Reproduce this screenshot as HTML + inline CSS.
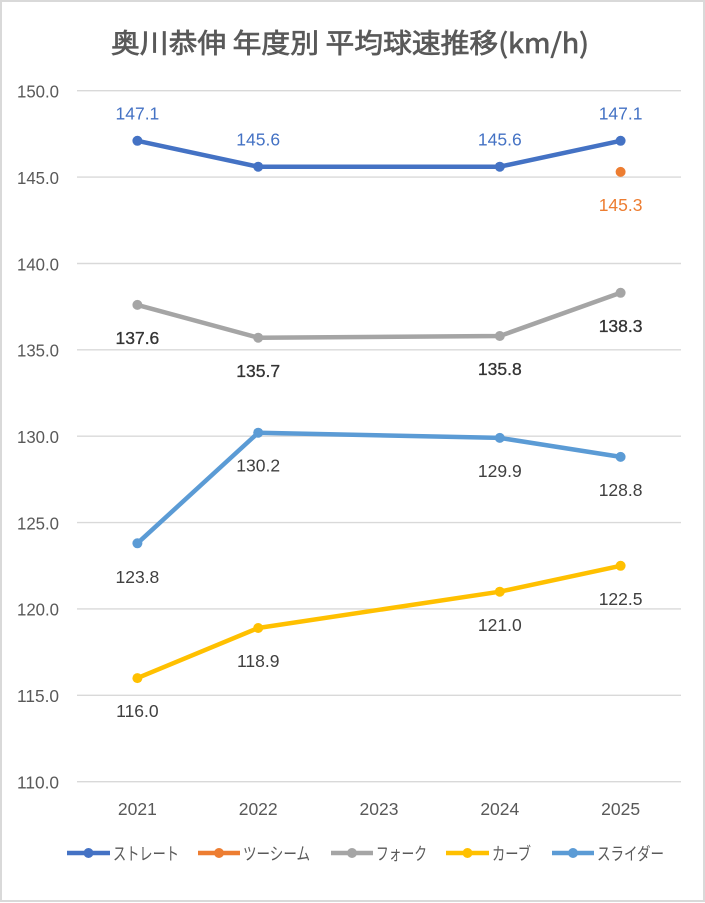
<!DOCTYPE html>
<html><head><meta charset="utf-8"><style>
html,body{margin:0;padding:0;background:#fff;}
svg{display:block;}
text{font-family:"Liberation Sans","Noto Sans CJK JP",sans-serif;}
</style></head><body>
<svg width="705" height="903" viewBox="0 0 705 903" xmlns="http://www.w3.org/2000/svg">
<rect x="0" y="0" width="705" height="903" fill="#fff"/>
<rect x="1" y="1" width="703" height="900" fill="none" stroke="#D9D9D9" stroke-width="2"/>
<text x="350" y="53" text-anchor="middle" font-size="27" font-weight="normal" fill="#595959" stroke="#595959" stroke-width="0.7" textLength="478" lengthAdjust="spacingAndGlyphs" style="font-family:'Noto Sans CJK JP','Liberation Sans',sans-serif">奥川恭伸 年度別 平均球速推移(km/h)</text>
<g stroke="#D9D9D9" stroke-width="1.4">
<line x1="77" x2="681" y1="90.7" y2="90.7"/>
<line x1="77" x2="681" y1="177.1" y2="177.1"/>
<line x1="77" x2="681" y1="263.5" y2="263.5"/>
<line x1="77" x2="681" y1="349.8" y2="349.8"/>
<line x1="77" x2="681" y1="436.2" y2="436.2"/>
<line x1="77" x2="681" y1="522.6" y2="522.6"/>
<line x1="77" x2="681" y1="608.9" y2="608.9"/>
<line x1="77" x2="681" y1="695.3" y2="695.3"/>
<line x1="77" x2="681" y1="781.7" y2="781.7"/>
</g>
<g font-size="17.5" fill="#595959">
<text x="17" y="97.5" textLength="42" lengthAdjust="spacingAndGlyphs">150.0</text>
<text x="17" y="183.9" textLength="42" lengthAdjust="spacingAndGlyphs">145.0</text>
<text x="17" y="270.3" textLength="42" lengthAdjust="spacingAndGlyphs">140.0</text>
<text x="17" y="356.6" textLength="42" lengthAdjust="spacingAndGlyphs">135.0</text>
<text x="17" y="443" textLength="42" lengthAdjust="spacingAndGlyphs">130.0</text>
<text x="17" y="529.4" textLength="42" lengthAdjust="spacingAndGlyphs">125.0</text>
<text x="17" y="615.7" textLength="42" lengthAdjust="spacingAndGlyphs">120.0</text>
<text x="17" y="702.1" textLength="42" lengthAdjust="spacingAndGlyphs">115.0</text>
<text x="17" y="788.5" textLength="42" lengthAdjust="spacingAndGlyphs">110.0</text>
</g>
<g font-size="17.5" fill="#595959" text-anchor="middle">
<text x="137.4" y="815">2021</text>
<text x="258.2" y="815">2022</text>
<text x="379" y="815">2023</text>
<text x="499.8" y="815">2024</text>
<text x="620.6" y="815">2025</text>
</g>
<!-- Straight -->
<polyline points="137.4,140.8 258.2,166.7 499.8,166.7 620.6,140.8" fill="none" stroke="#4472C4" stroke-width="4.5" stroke-linejoin="round"/>
<g fill="#4472C4"><circle cx="137.4" cy="140.8" r="5"/><circle cx="258.2" cy="166.7" r="5"/><circle cx="499.8" cy="166.7" r="5"/><circle cx="620.6" cy="140.8" r="5"/></g>
<!-- Two-seam -->
<circle cx="620.6" cy="171.9" r="5" fill="#ED7D31"/>
<!-- Fork -->
<polyline points="137.4,304.9 258.2,337.7 499.8,336.0 620.6,292.8" fill="none" stroke="#A5A5A5" stroke-width="4.5" stroke-linejoin="round"/>
<g fill="#A5A5A5"><circle cx="137.4" cy="304.9" r="5"/><circle cx="258.2" cy="337.7" r="5"/><circle cx="499.8" cy="336.0" r="5"/><circle cx="620.6" cy="292.8" r="5"/></g>
<!-- Curve -->
<polyline points="137.4,678.1 258.2,628.0 499.8,591.7 620.6,565.8" fill="none" stroke="#FFC000" stroke-width="4.5" stroke-linejoin="round"/>
<g fill="#FFC000"><circle cx="137.4" cy="678.1" r="5"/><circle cx="258.2" cy="628.0" r="5"/><circle cx="499.8" cy="591.7" r="5"/><circle cx="620.6" cy="565.8" r="5"/></g>
<!-- Slider -->
<polyline points="137.4,543.3 258.2,432.7 499.8,437.9 620.6,456.9" fill="none" stroke="#5B9BD5" stroke-width="4.5" stroke-linejoin="round"/>
<g fill="#5B9BD5"><circle cx="137.4" cy="543.3" r="5"/><circle cx="258.2" cy="432.7" r="5"/><circle cx="499.8" cy="437.9" r="5"/><circle cx="620.6" cy="456.9" r="5"/></g>
<!-- Labels -->
<g font-size="17.5" text-anchor="middle">
<g fill="#4472C4">
<text x="137.4" y="119.3">147.1</text>
<text x="258.2" y="145.3">145.6</text>
<text x="499.8" y="145.3">145.6</text>
<text x="620.6" y="119.3">147.1</text>
</g>
<text x="620.6" y="211" fill="#ED7D31">145.3</text>
<g fill="#333333" stroke="#333333" stroke-width="0.3">
<text x="137.4" y="344">137.6</text>
<text x="258.2" y="377">135.7</text>
<text x="499.8" y="375">135.8</text>
<text x="620.6" y="332">138.3</text>
</g>
<g fill="#404040">
<text x="137.4" y="717">116.0</text>
<text x="258.2" y="667">118.9</text>
<text x="499.8" y="631">121.0</text>
<text x="620.6" y="605">122.5</text>
<text x="137.4" y="583">123.8</text>
<text x="258.2" y="471.5">130.2</text>
<text x="499.8" y="477">129.9</text>
<text x="620.6" y="496">128.8</text>
</g>
</g>
<!-- Legend -->
<g stroke-width="4.5">
<line x1="67" x2="110" y1="853" y2="853" stroke="#4472C4"/>
<line x1="198" x2="240" y1="853" y2="853" stroke="#ED7D31"/>
<line x1="331" x2="373" y1="853" y2="853" stroke="#A5A5A5"/>
<line x1="446" x2="489" y1="853" y2="853" stroke="#FFC000"/>
<line x1="552" x2="594" y1="853" y2="853" stroke="#5B9BD5"/>
</g>
<circle cx="88.5" cy="853" r="5" fill="#4472C4"/>
<circle cx="219" cy="853" r="5" fill="#ED7D31"/>
<circle cx="352" cy="853" r="5" fill="#A5A5A5"/>
<circle cx="467.5" cy="853" r="5" fill="#FFC000"/>
<circle cx="573" cy="853" r="5" fill="#5B9BD5"/>
<g font-size="17.5" fill="#595959" style="font-family:'Noto Sans CJK JP','Liberation Sans',sans-serif">
<text x="113" y="860" textLength="66" lengthAdjust="spacingAndGlyphs">ストレート</text>
<text x="243" y="860" textLength="67" lengthAdjust="spacingAndGlyphs">ツーシーム</text>
<text x="376" y="860" textLength="51" lengthAdjust="spacingAndGlyphs">フォーク</text>
<text x="492" y="860" textLength="39" lengthAdjust="spacingAndGlyphs">カーブ</text>
<text x="597" y="860" textLength="67" lengthAdjust="spacingAndGlyphs">スライダー</text>
</g>
</svg>
</body></html>
